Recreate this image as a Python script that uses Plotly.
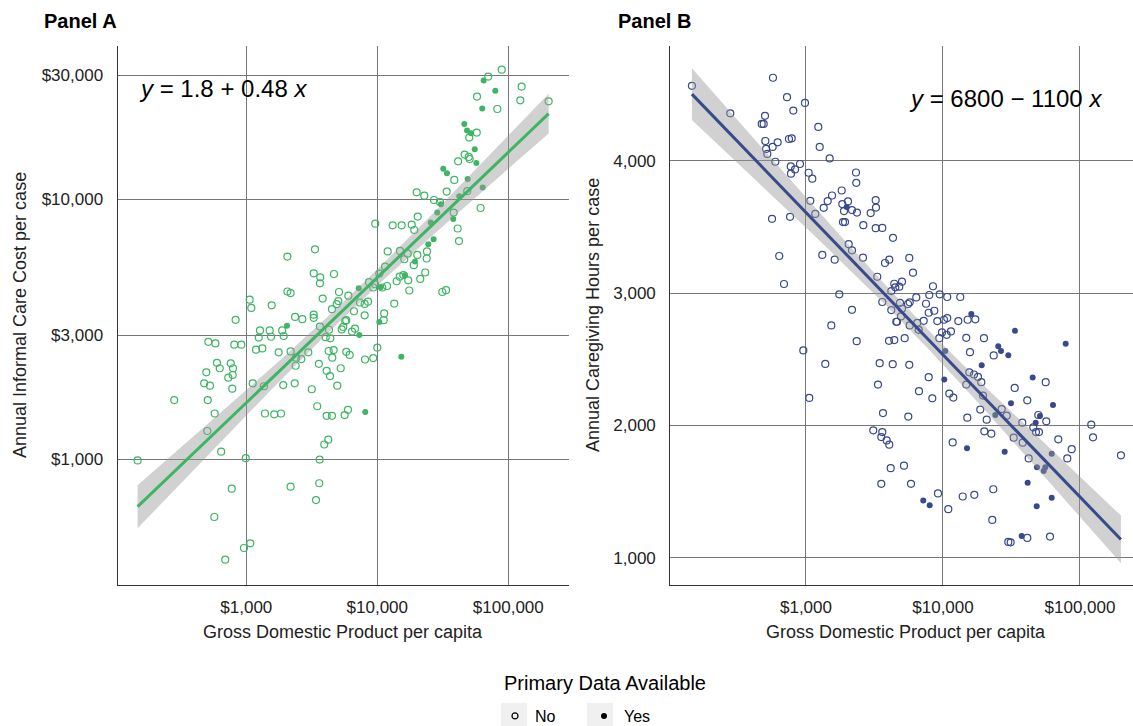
import numpy as np
import plotly.graph_objects as go

# ---------------- Panel A data: GDP per capita vs informal care cost ----------------
gdp_a = [
    2060, 2060, 2180, 1061, 1092, 1563, 829, 2356, 2045, 1272,
    1508, 1880, 1929, 1244, 1544, 513, 581, 810, 916, 1186,
    1326, 1766, 2180, 2382, 597, 627, 761, 791, 787, 729,
    495, 477, 528, 782, 1119, 1363, 1915, 2342, 282, 508,
    574, 1389, 1635, 1840, 504, 643, 148, 990, 774, 2180,
    570, 1073, 960, 691,
    31870, 34020, 38700, 41400, 19980, 22840, 27100, 30110, 30610, 33860,
    38280, 38020, 41050, 42050, 28680, 25560, 20350, 18330, 19160, 15350,
    13100, 9650, 26920, 24510, 23950, 23830, 20200, 19390, 18980, 17070,
    16070, 14900, 12000, 11460, 10360, 23220, 21280, 17230, 16280, 15810,
    14820, 14050, 17550, 11870, 10920, 10610, 9310, 9610, 8640, 31350,
    33470, 13470, 11290, 11190, 10360, 10000, 9310, 8060, 15260, 8010,
    8490, 8010, 7370, 7220, 6010, 5100, 5040, 4900, 4510, 3345,
    3270, 3670, 3650, 4670, 3830, 2677, 3270, 3270, 3650,
    4275, 4036, 4377, 5348, 5494, 5696, 5797, 6635, 6407, 6757,
    7288, 2974, 2630, 2396, 4256, 4643, 4532, 5797, 6152, 3580,
    4106, 4357, 5257, 4949, 3160, 3480, 4106, 4510, 5636, 5970,
    8095, 3937, 4226, 3630, 3605, 3405,
    89100, 70300, 64870, 79570, 126400, 123500, 203300, 57710, 63250, 82430,
    46150, 48380, 51930, 57440, 50350, 55440, 46440, 49890, 50710,
    57050, 48960, 48620, 63690, 42250, 61470,
]
cost_a = [
    6020, 4420, 4360, 4110, 3820, 3910, 3440, 3530, 3260, 3130,
    3130, 3130, 2980, 2940, 2960, 2830, 2790, 2760, 2760, 2640,
    2670, 2580, 2600, 2290, 2350, 2240, 2340, 2240, 2110, 2060,
    2160, 1960, 1920, 1870, 1960, 1910, 1930, 1960, 1690, 1690,
    1500, 1500, 1490, 1500, 1285, 1070, 990, 1010, 771, 785,
    600, 475, 456, 411,
    13120, 12590, 11870, 14000, 10640, 10330, 9940, 9760, 9570, 10710,
    8890, 8400, 7720, 6910, 8890, 8140, 8580, 7990, 7620, 7940,
    7940, 8060, 7020, 6710, 6300, 5920, 6110, 5760, 5580, 6180,
    5880, 6330, 6300, 5510, 5180, 5230, 4940, 4880, 5100, 5110,
    5040, 4840, 4460, 4640, 4580, 4590, 4580, 4710, 4800, 4400,
    4470, 3970, 3640, 3430, 3370, 2690, 2450, 2420, 2480, 3580,
    4040, 3960, 4010, 4550, 4260, 4400, 4060, 3950, 3780, 6420,
    5190, 5010, 4750, 5160, 4150, 3460, 3600, 3500, 3240,
    3150, 2950, 2920, 3160, 3230, 3400, 3430, 3710, 3100, 3180,
    3010, 2580, 2430, 2460, 2610, 2630, 2460, 2590, 2520, 2330,
    2190, 2090, 2240, 1920, 1860, 1600, 1470, 1470, 1480, 1550,
    1520, 1140, 1190, 998, 809, 697,
    31530, 29640, 28610, 26180, 27130, 24030, 23820, 24830, 22330, 22250,
    19480, 18380, 17940, 18050, 17280, 15570, 14860, 14550, 14290,
    13790, 11970, 10760, 11090, 10270, 9260,
]
primary_a = [
    0, 0, 0, 0, 0, 0, 0, 0, 1, 0,
    0, 0, 0, 0, 0, 0, 0, 0, 0, 0,
    0, 0, 0, 0, 0, 0, 0, 0, 0, 0,
    0, 0, 0, 0, 0, 0, 0, 0, 0, 0,
    0, 0, 0, 0, 0, 0, 0, 0, 0, 0,
    0, 0, 0, 0,
    1, 1, 0, 0, 0, 0, 0, 0, 1, 0,
    0, 1, 0, 0, 1, 1, 0, 0, 0, 0,
    0, 0, 1, 1, 0, 0, 0, 1, 0, 0,
    0, 0, 0, 0, 0, 0, 0, 0, 1, 0,
    0, 0, 0, 0, 0, 1, 0, 0, 0, 0,
    0, 0, 0, 0, 1, 0, 0, 0, 1, 0,
    0, 0, 0, 1, 0, 0, 0, 0, 0, 0,
    0, 0, 0, 0, 0, 0, 0, 0, 0,
    0, 0, 0, 0, 0, 0, 0, 0, 0, 0,
    1, 0, 0, 0, 0, 0, 0, 0, 0, 0,
    0, 0, 0, 0, 0, 0, 0, 0, 0, 0,
    1, 0, 0, 0, 0, 0,
    0, 0, 1, 1, 0, 0, 0, 0, 1, 0,
    1, 1, 1, 0, 0, 1, 0, 0, 0,
    1, 1, 0, 1, 1, 0,
]

# ---------------- Panel B data: GDP per capita vs caregiving hours ----------------
gdp_b = [
    147, 574, 280, 727, 983, 808, 502, 475, 491, 1230,
    505, 621, 751, 787, 511, 571, 522, 1259, 1489, 597,
    774, 777, 832, 904, 1046, 1112, 2317, 2328, 1075, 1169,
    1347, 1440, 1549, 1822, 1841, 2026, 1982, 1894, 2166, 2356,
    1862, 1927, 565, 765, 2050, 2166, 638, 1315, 1620, 691,
    1750, 2166, 1530, 2345, 956, 1383, 1057, 3227, 3243, 2967,
    2620, 3227, 3605, 4315, 2606, 3772, 4055, 5675, 6040, 3313,
    4411, 4487, 4797, 5020, 4195, 8453, 6383, 7943, 9461, 10740,
    13370, 3605, 4853, 5553, 5715, 7516, 4195, 5020, 4934, 7865,
    8640, 4562, 4620, 5715, 6493, 6647, 7230, 9086, 10170, 10740,
    12940, 15140, 17210, 16090, 9834, 10640, 11430, 9397, 4035, 4411,
    5254, 14790, 19910, 25330, 26510, 23450, 29970, 15740, 10390, 3451,
    4295, 5675, 19170, 3354, 7865, 10220, 6681, 8356, 11120, 11890,
    15560, 16830, 18010, 19040, 14790, 19590, 26820, 24090, 29170, 18710,
    15050, 20840, 3648, 5581, 20030, 22530, 11770, 14970, 28210, 3098,
    3605, 3545, 3882, 4055, 4152, 5190, 3545, 5842, 9194, 7178,
    7998, 10930, 13930, 16930, 23290, 22900, 29970, 33540, 78650, 45150,
    56200, 33380, 41240, 31360, 63530, 49620, 51050, 37920, 47510,
    56760, 45620, 47750, 50200, 32810, 38180, 69430, 86990, 80790, 42220,
    62170, 48530, 55830, 54330, 41500, 62170, 48310, 120900, 124500, 199100,
    37540, 41240, 31190, 60400,
]
hours_b = [
    4566, 4627, 4358, 4480, 4437, 4379, 4339, 4278, 4278, 4255,
    4149, 4139, 4164, 4169, 4089, 4104, 4051, 4104, 4017, 3992,
    3957, 3902, 3934, 3975, 3909, 3864, 3911, 3833, 3697, 3598,
    3644, 3695, 3737, 3775, 3672, 3692, 3651, 3619, 3627, 3608,
    3536, 3536, 3561, 3576, 3369, 3323, 3280, 3288, 3252, 3068,
    2990, 2873, 2755, 2636, 2566, 2464, 2207, 3702, 3646, 3604,
    3513, 3490, 3492, 3417, 3267, 3227, 3252, 3265, 3154, 3123,
    3070, 3043, 3048, 3086, 3015, 3051, 2967, 2985, 2990, 2970,
    2970, 2932, 2926, 2917, 2930, 2919, 2871, 2881, 2823, 2851,
    2866, 2783, 2783, 2755, 2775, 2722, 2790, 2788, 2798, 2811,
    2788, 2798, 2801, 2841, 2702, 2684, 2710, 2659, 2639, 2644,
    2659, 2661, 2659, 2598, 2561, 2528, 2530, 2553, 2561, 2470,
    2462, 2457, 2454, 2308, 2364, 2346, 2258, 2204, 2240, 2210,
    2401, 2384, 2366, 2326, 2308, 2225, 2123, 2078, 2073, 2119,
    2058, 2043, 2093, 2066, 1955, 1937, 1871, 1826, 1801, 1962,
    1949, 1911, 1886, 1854, 1676, 1695, 1558, 1558, 1485, 1432,
    1396, 1366, 1462, 1475, 1517, 1285, 1119, 2714, 2616, 2361,
    2326, 2283, 2189, 2167, 2154, 2078, 2070, 2020, 2020,
    2030, 1985, 1949, 1949, 1907, 1869, 1894, 1820, 1750, 1750,
    1786, 1684, 1684, 1654, 1566, 1452, 1389, 2005, 1909, 1773,
    1164, 1149, 1116, 1159,
]
primary_b = [
    0, 0, 0, 0, 0, 0, 0, 0, 0, 0,
    0, 0, 0, 0, 0, 0, 0, 0, 0, 0,
    0, 0, 0, 0, 0, 0, 0, 0, 0, 0,
    0, 0, 0, 0, 0, 0, 1, 0, 0, 0,
    0, 0, 0, 0, 0, 0, 0, 0, 0, 0,
    0, 0, 0, 0, 0, 0, 0, 0, 0, 0,
    0, 0, 0, 0, 0, 0, 0, 0, 0, 0,
    0, 0, 0, 0, 0, 0, 0, 0, 0, 0,
    0, 0, 0, 0, 0, 0, 0, 0, 0, 0,
    0, 0, 0, 0, 0, 0, 0, 0, 0, 0,
    0, 0, 0, 1, 0, 0, 0, 0, 0, 0,
    0, 0, 0, 1, 1, 0, 1, 0, 1, 0,
    0, 0, 1, 0, 0, 1, 0, 0, 0, 0,
    0, 0, 0, 0, 0, 0, 0, 1, 0, 0,
    0, 0, 0, 0, 0, 0, 0, 1, 1, 0,
    0, 0, 0, 0, 0, 0, 0, 0, 0, 1,
    1, 0, 0, 0, 0, 0, 0, 1, 1, 1,
    0, 0, 0, 1, 1, 0, 1, 0, 1,
    0, 0, 0, 0, 0, 0, 0, 0, 0, 0,
    1, 1, 1, 1, 1, 1, 1, 0, 0, 0,
    1, 0, 0, 0,
]

# ---------------- tick labels / text ----------------
x_tickvals = [1000, 10000, 100000]
x_ticktext = ["$1,000", "$10,000", "$100,000"]
ya_tickvals = [1000, 3000, 10000, 30000]
ya_ticktext = ["$1,000", "$3,000", "$10,000", "$30,000"]
yb_tickvals = [1000, 2000, 3000, 4000]
yb_ticktext = ["1,000", "2,000", "3,000", "4,000"]
legend_labels = ["No", "Yes"]

GREEN = "#3db565"
NAVY = "#38498c"
FONT = "Liberation Sans, Arial, sans-serif"
W, H = 1133, 726


def px(x):
    return x / W


def py(y):
    return 1 - y / H


def linfit(x, y, n_pts=120):
    x = np.asarray(x, float)
    y = np.asarray(y, float)
    n = len(x)
    b1, b0 = np.polyfit(x, y, 1)
    xs = np.linspace(x.min(), x.max(), n_pts)
    yh = b0 + b1 * xs
    resid = y - (b0 + b1 * x)
    s = np.sqrt(np.sum(resid ** 2) / (n - 2))
    sxx = np.sum((x - x.mean()) ** 2)
    se = s * np.sqrt(1.0 / n + (xs - x.mean()) ** 2 / sxx)
    t = 1.972
    return xs, yh, yh - t * se, yh + t * se


fig = go.Figure()


def add_points(gdp, val, prim, color, xa, ya):
    gdp = np.asarray(gdp, float)
    val = np.asarray(val, float)
    prim = np.asarray(prim, int)
    no = prim == 0
    yes = prim == 1
    fig.add_trace(go.Scatter(
        x=gdp[no], y=val[no], mode="markers", xaxis=xa, yaxis=ya,
        marker=dict(symbol="circle-open", size=7, color=color, line=dict(width=1.2, color=color)),
        showlegend=False, hoverinfo="skip"))
    fig.add_trace(go.Scatter(
        x=gdp[yes], y=val[yes], mode="markers", xaxis=xa, yaxis=ya,
        marker=dict(symbol="circle", size=6, color=color, line=dict(width=0)),
        showlegend=False, hoverinfo="skip"))


def add_fit(xs_plot, yh, lo, hi, color, xa, ya):
    fig.add_trace(go.Scatter(
        x=np.concatenate([xs_plot, xs_plot[::-1]]),
        y=np.concatenate([lo, hi[::-1]]),
        mode="lines", fill="toself", fillcolor="rgba(153,153,153,0.45)",
        line=dict(width=0), xaxis=xa, yaxis=ya, showlegend=False, hoverinfo="skip"))
    fig.add_trace(go.Scatter(
        x=xs_plot, y=yh, mode="lines", line=dict(color=color, width=3),
        xaxis=xa, yaxis=ya, showlegend=False, hoverinfo="skip"))


# Panel A (log-log fit)
add_points(gdp_a, cost_a, primary_a, GREEN, "x", "y")
xs, yh, lo, hi = linfit(np.log10(gdp_a), np.log10(cost_a))
add_fit(10 ** xs, 10 ** yh, 10 ** lo, 10 ** hi, GREEN, "x", "y")

# Panel B (linear in log10 GDP)
add_points(gdp_b, hours_b, primary_b, NAVY, "x2", "y2")
xs, yh, lo, hi = linfit(np.log10(gdp_b), hours_b)
add_fit(10 ** xs, yh, lo, hi, NAVY, "x2", "y2")

# legend entries
fig.add_trace(go.Scatter(
    x=[None], y=[None], mode="markers", name=legend_labels[0],
    marker=dict(symbol="circle-open", size=6, color="black", line=dict(width=1.2, color="black"))))
fig.add_trace(go.Scatter(
    x=[None], y=[None], mode="markers", name=legend_labels[1],
    marker=dict(symbol="circle", size=6, color="black")))

grid = "#777777"
axis_common = dict(showgrid=True, gridcolor=grid, gridwidth=1, zeroline=False,
                   showline=True, linecolor="#333333", linewidth=1.2, ticks="",
                   tickfont=dict(family=FONT, size=17, color="#222222"),
                   automargin=False, fixedrange=True)

fig.update_layout(
    width=W, height=H,
    margin=dict(l=0, r=0, t=0, b=0, autoexpand=False),
    paper_bgcolor="white", plot_bgcolor="white",
    font=dict(family=FONT, color="black"),
    xaxis=dict(type="log", domain=[px(117.6), px(569)], range=[2.0176, 5.4634],
               tickvals=x_tickvals, ticktext=x_ticktext, anchor="y",
               ticklabelstandoff=7, **axis_common),
    yaxis=dict(type="log", domain=[py(584.5), py(46)], range=[2.5185, 4.5896],
               tickvals=ya_tickvals, ticktext=ya_ticktext, anchor="x",
               ticklabelstandoff=10, **axis_common),
    xaxis2=dict(type="log", domain=[px(670.3), 1.0], range=[2.0095, 5.387],
                tickvals=x_tickvals, ticktext=x_ticktext, anchor="y2",
                ticklabelstandoff=7, **axis_common),
    yaxis2=dict(domain=[py(584.5), py(46)], range=[797, 4867],
                tickvals=yb_tickvals, ticktext=yb_ticktext, anchor="x2",
                ticklabelstandoff=10, **axis_common),
    legend=dict(orientation="h", x=px(495), xanchor="left", y=py(699), yanchor="top",
                font=dict(family=FONT, size=16, color="black"),
                bgcolor="rgba(0,0,0,0)", entrywidth=44, entrywidthmode="pixels"),
    showlegend=True,
)

ann = [
    dict(text="<b>Panel A</b>", x=px(42), y=py(21), xanchor="left", yanchor="middle",
         font=dict(size=20)),
    dict(text="<b>Panel B</b>", x=px(616), y=py(21), xanchor="left", yanchor="middle",
         font=dict(size=20)),
    dict(text="<i>y</i> = 1.8 + 0.48 <i>x</i>", x=px(137), y=py(89), xanchor="left",
         yanchor="middle", font=dict(size=24)),
    dict(text="<i>y</i> = 6800 \u2212 1100 <i>x</i>", x=px(907), y=py(98), xanchor="left",
         yanchor="middle", font=dict(size=24)),
    dict(text="Gross Domestic Product per capita", x=px(343), y=py(632), xanchor="center",
         yanchor="middle", font=dict(size=18, color="#222222")),
    dict(text="Gross Domestic Product per capita", x=px(906), y=py(632), xanchor="center",
         yanchor="middle", font=dict(size=18, color="#222222")),
    dict(text="Annual Informal Care Cost per case", x=px(20), y=py(315), textangle=-90,
         xanchor="center", yanchor="middle", font=dict(size=18, color="#222222")),
    dict(text="Annual Caregiving Hours per case", x=px(593), y=py(315), textangle=-90,
         xanchor="center", yanchor="middle", font=dict(size=18, color="#222222")),
    dict(text="Primary Data Available", x=px(502), y=py(683), xanchor="left",
         yanchor="middle", font=dict(size=20, color="black")),
]
for a in ann:
    a.update(xref="paper", yref="paper", showarrow=False)
    a["font"] = dict(family=FONT, **a["font"])
fig.update_layout(annotations=ann)

# light grey legend key backgrounds
for x0 in (501, 587):
    fig.add_shape(type="rect", xref="paper", yref="paper",
                  x0=px(x0), x1=px(x0 + 26), y0=py(726), y1=py(703),
                  fillcolor="#f0f0f0", line=dict(width=0), layer="below")

fig.write_html("out.html", config={"displayModeBar": False},
               post_script="document.body.style.margin='0px';")
